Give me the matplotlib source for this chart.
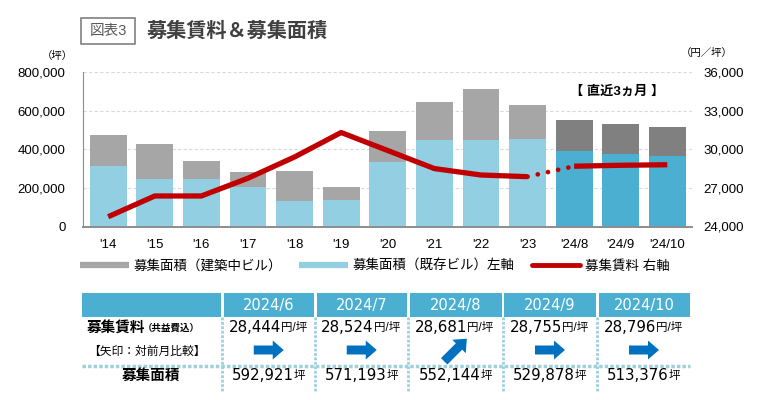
import numpy as np
import matplotlib
matplotlib.use("Agg")
import matplotlib.pyplot as plt
from matplotlib.lines import Line2D
from matplotlib.patches import Rectangle, FancyArrow

plt.rcParams['font.family'] = ['Liberation Sans', 'Noto Sans CJK JP', 'DejaVu Sans']

# ============================================================
# Data
# ============================================================
categories = ["'14", "'15", "'16", "'17", "'18", "'19", "'20", "'21", "'22", "'23",
              "'24/8", "'24/9", "'24/10"]
area_existing = [315000, 245000, 248000, 202000, 134000, 136000, 333000, 449000,
                 448000, 455000, 392000, 377000, 366000]
area_total = [475000, 427000, 339000, 282000, 287000, 204000, 496000, 645000,
              714000, 631000, 552144, 529878, 513376]
rent = [24760, 26370, 26370, 27750, 29400, 31300, 29900, 28500, 28000, 27870,
        28681, 28755, 28796]
n_recent = 3

tbl_months = ["2024/6", "2024/7", "2024/8", "2024/9", "2024/10"]
tbl_rent = [28444, 28524, 28681, 28755, 28796]
tbl_area = [592921, 571193, 552144, 529878, 513376]
tbl_arrow_deg = [0, 0, 45, 0, 0]   # direction vs previous month

# ============================================================
# Colours
# ============================================================
c_gray = "#A6A6A6"
c_gray_recent = "#808080"
c_blue = "#92CFE2"
c_blue_recent = "#4BAFD2"
c_red = "#C00000"
c_head = "#4BAFD2"
c_dot = "#9FD0DE"
c_arrow = "#0070C0"

W, H = 770, 400
fig = plt.figure(figsize=(W / 100, H / 100), dpi=100)

def fx(px):
    return px / W

def fy(py):
    return 1 - py / H

# ============================================================
# Chart
# ============================================================
ax_l, ax_r, ax_t, ax_b = 83, 692, 72, 226.5
ax = fig.add_axes([fx(ax_l), fy(ax_b), fx(ax_r - ax_l), (ax_b - ax_t) / H])
x = np.arange(len(categories))
existing = np.array(area_existing, dtype=float)
building = np.array(area_total, dtype=float) - existing
n = len(categories)
col_e = [c_blue] * (n - n_recent) + [c_blue_recent] * n_recent
col_b = [c_gray] * (n - n_recent) + [c_gray_recent] * n_recent

ax.bar(x, existing, width=0.79, color=col_e, zorder=2)
ax.bar(x, building, bottom=existing, width=0.79, color=col_b, zorder=2)

ax.set_xlim(-0.54, n - 1 + 0.53)
ax.set_ylim(0, 800000)
ax.set_yticks(np.arange(0, 800001, 200000))
ax.set_yticklabels([f"{v:,.0f}" for v in np.arange(0, 800001, 200000)])
ax.set_xticks(x)
ax.set_xticklabels(categories)
ax.tick_params(axis="y", length=0, pad=12.5, labelsize=9.5)
ax.tick_params(axis="x", length=0, pad=9, labelsize=9.5)
ax.grid(axis="y", color="#D9D9D9", linestyle=(0, (3, 2)), linewidth=0.8, zorder=0)
for s in ["top", "right"]:
    ax.spines[s].set_visible(False)
ax.spines["left"].set_color("#8C8C8C")
ax.spines["bottom"].set_color("#8C8C8C")
ax.spines["bottom"].set_linewidth(1.4)

ax2 = ax.twinx()
ax2.set_ylim(24000, 36000)
ax2.set_yticks(np.arange(24000, 36001, 3000))
ax2.set_yticklabels([f"{v:,.0f}" for v in np.arange(24000, 36001, 3000)])
ax2.tick_params(axis="y", length=0, pad=8, labelsize=9.5)
for s in ["top", "right", "left", "bottom"]:
    ax2.spines[s].set_visible(False)

k = n - n_recent
ax2.plot(x[:k], rent[:k], color=c_red, lw=3.8, solid_capstyle="butt",
         solid_joinstyle="round", zorder=3)
ax2.plot(x[k - 1:k + 1], rent[k - 1:k + 1], color=c_red, lw=3.4,
         linestyle=(2.2, (0.01, 2.2)), dash_capstyle="round", zorder=3)
ax2.plot(x[k:], rent[k:], color=c_red, lw=3.8, solid_capstyle="butt", zorder=3)

# legend
handles = [
    Line2D([], [], color=c_gray, lw=4.5, solid_capstyle="butt"),
    Line2D([], [], color=c_blue, lw=4.5, solid_capstyle="butt"),
    Line2D([], [], color=c_red, lw=3.5, solid_capstyle="round"),
]
labels = ["募集面積（建築中ビル）", "募集面積（既存ビル）左軸", "募集賃料 右軸"]
fig.legend(handles, labels, loc="center left", bbox_to_anchor=(fx(80), fy(266)),
           bbox_transform=fig.transFigure, ncol=3, frameon=False, fontsize=9.7,
           handlelength=3.6, handletextpad=0.35, columnspacing=1.3,
           borderpad=0, borderaxespad=0)

# ============================================================
# Overlay in pixel coords: titles, notes and table
# ============================================================
ov = fig.add_axes([0, 0, 1, 1])
ov.set_xlim(0, W)
ov.set_ylim(H, 0)
ov.axis("off")

ov.add_patch(Rectangle((81, 18), 54, 26, facecolor="white", edgecolor="#808080", lw=1.2))
ov.text(108, 31.5, "図表3", ha="center", va="center", fontsize=10.5, color="#595959")
ov.text(147, 31.5, "募集賃料＆募集面積", ha="left", va="center", fontsize=14.5,
        fontweight="bold", color="#404040")
ov.text(57.5, 56, "（坪）", ha="center", va="center", fontsize=7.5)
ov.text(706.5, 53, "（円／坪）", ha="center", va="center", fontsize=7.5)
ov.text(617.5, 92, "【 直近3ヵ月 】", ha="center", va="center", fontsize=9.5,
        fontweight="bold")

# table geometry
col_x = [(223.5, 314), (316.5, 407), (409.5, 501.5), (504, 596), (598.5, 689.5)]
hdr_top, hdr_bot = 293, 317
y_rent, y_arrow, y_area = 328, 350, 376

ov.add_patch(Rectangle((82, hdr_top), 221 - 82, hdr_bot - hdr_top, color=c_head, lw=0))
for (x0, x1), m in zip(col_x, tbl_months):
    ov.add_patch(Rectangle((x0, hdr_top), x1 - x0, hdr_bot - hdr_top, color=c_head, lw=0))
    ov.text((x0 + x1) / 2, (hdr_top + hdr_bot) / 2 + 0.5, m, ha="center", va="center",
            fontsize=10.5, color="white", family="DejaVu Sans")

ov.text(87, y_rent, "募集賃料", ha="left", va="center", fontsize=10.5, fontweight="bold")
ov.text(143, y_rent + 0.5, "（共益費込）", ha="left", va="center", fontsize=6.8,
        fontweight="bold")
ov.text(147, y_arrow + 2, "【矢印：対前月比較】", ha="center", va="center", fontsize=8.5)
ov.text(151, y_area, "募集面積", ha="center", va="center", fontsize=10.5, fontweight="bold")

for (x0, x1), r, a, deg in zip(col_x, tbl_rent, tbl_area, tbl_arrow_deg):
    cx = (x0 + x1) / 2
    ov.text(cx + 12, y_rent, f"{r:,}", ha="right", va="center", fontsize=10.8,
            family="DejaVu Sans")
    ov.text(cx + 12, y_rent + 0.5, "円/坪", ha="left", va="center", fontsize=8.3)
    ov.text(cx + 25, y_area, f"{a:,}", ha="right", va="center", fontsize=10.8,
            family="DejaVu Sans")
    ov.text(cx + 25, y_area + 0.5, "坪", ha="left", va="center", fontsize=8.3)
    L = 30 if deg == 0 else 32
    th = np.deg2rad(deg)
    dx, dy = L * np.cos(th), -L * np.sin(th)
    ov.add_patch(FancyArrow(cx - dx / 2, y_arrow - dy / 2, dx, dy, width=9,
                            head_width=19, head_length=11, length_includes_head=True,
                            color=c_arrow, lw=0))

# dotted separators
ov.plot([82, 690], [366, 366], color=c_dot, lw=2.5, linestyle=(0, (1, 0.6)))
for x0 in [222.3, 315.3, 408.3, 502.8, 597.3]:
    ov.plot([x0, x0], [hdr_bot, 392], color=c_dot, lw=2, linestyle=(0, (1, 0.6)))

fig.savefig("out.png", dpi=100)
